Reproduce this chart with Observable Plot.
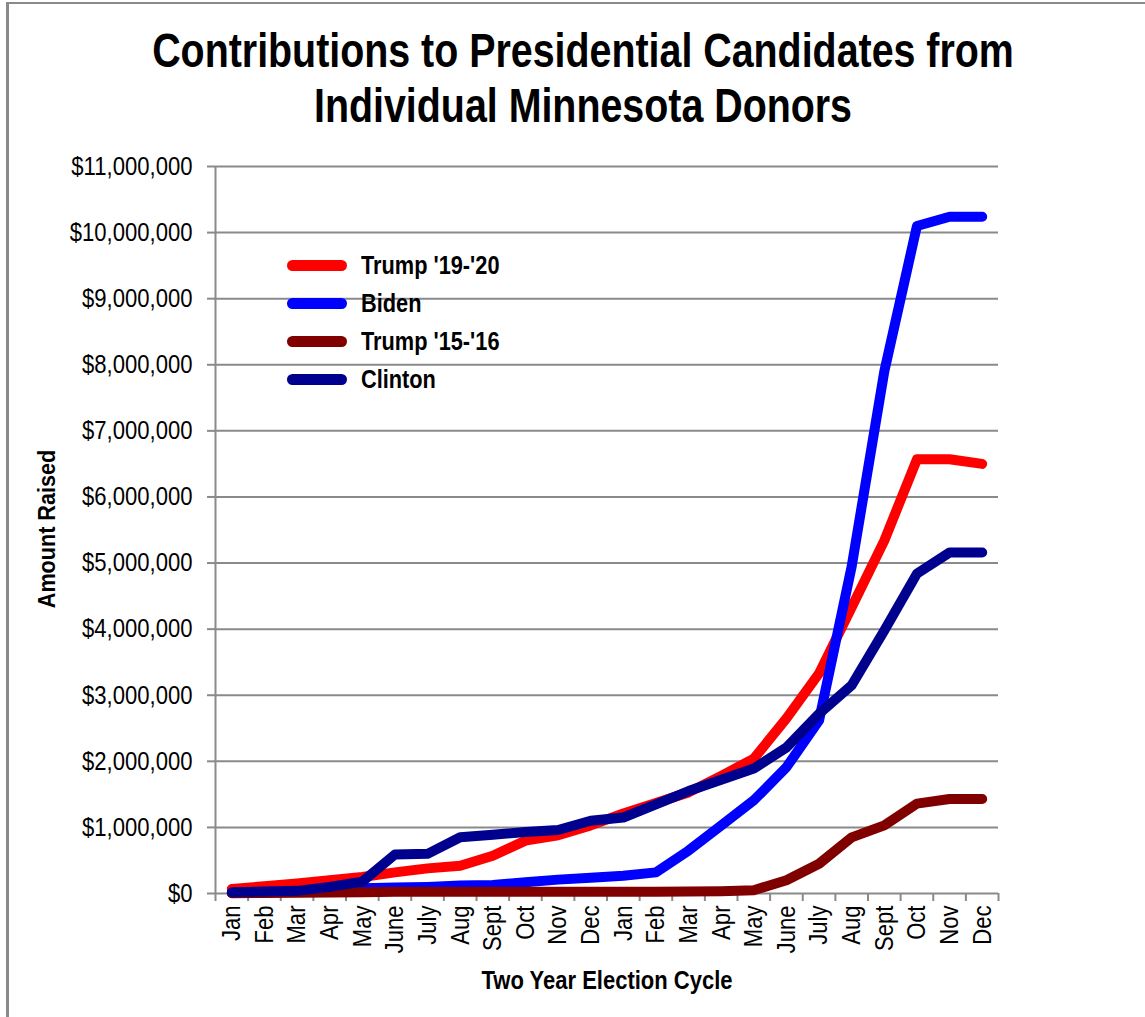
<!DOCTYPE html>
<html>
<head>
<meta charset="utf-8">
<script src="https://cdn.jsdelivr.net/npm/d3@7"></script>
<script src="https://cdn.jsdelivr.net/npm/@observablehq/plot@0.6"></script>
<style>
  html, body { margin: 0; padding: 0; background: #fff; }
  #wrap { position: relative; width: 1145px; height: 1017px; overflow: hidden; font-family: 'Liberation Sans Narrow', 'Arial Narrow', 'Liberation Sans', sans-serif; }
  #frame { position: absolute; left: 6px; top: 2px; width: 1200px; height: 1100px; border-top: 2px solid #8a8a8a; border-left: 3px solid #8a8a8a; box-sizing: border-box; }
  #title { position: absolute; left: 0; top: 23px; width: 1166px; text-align: center; font-weight: bold; font-size: 48px; line-height: 55px; color: #000; transform: scaleX(0.82); transform-origin: 583px 0; }
  #chart { position: absolute; left: 0; top: 0; }
  #ylabel { position: absolute; left: 47px; top: 529px; transform: translate(-50%, -50%) rotate(-90deg) scaleX(0.9); font-weight: bold; font-size: 24px; white-space: nowrap; }
  #xlabel { position: absolute; left: 607px; top: 966px; transform: translateX(-50%) scaleX(0.88); font-weight: bold; font-size: 25px; white-space: nowrap; }
  #legend { position: absolute; left: 287px; top: 250px; }
  .item { position: absolute; left: 0; height: 30px; white-space: nowrap; font-weight: bold; font-size: 25px; }
  .swatch { position: absolute; left: 0; top: 10px; width: 60px; height: 11px; border-radius: 6px; }
  .lab { position: absolute; left: 74px; top: 0; line-height: 30px; transform: scaleX(0.87); transform-origin: 0 0; }
</style>
</head>
<body>
<div id="wrap">
  <div id="frame"></div>
  <div id="chart"></div>
  <div id="title">Contributions to Presidential Candidates from<br>Individual Minnesota Donors</div>
  <div id="ylabel">Amount Raised</div>
  <div id="xlabel">Two Year Election Cycle</div>
  <div id="legend"></div>
</div>
<script>
const months = ["Jan","Feb","Mar","Apr","May","June","July","Aug","Sept","Oct","Nov","Dec",
                "Jan","Feb","Mar","Apr","May","June","July","Aug","Sept","Oct","Nov","Dec"];
const yTicks = [0,1e6,2e6,3e6,4e6,5e6,6e6,7e6,8e6,9e6,10e6,11e6];

const seriesNames = ["Trump '19-'20", "Biden", "Trump '15-'16", "Clinton"];
const seriesColors = ["#ff0000", "#0000ff", "#800000", "#00008f"];

const trump2020 = [70000,110000,150000,200000,250000,320000,380000,420000,570000,800000,880000,1030000,
                   1210000,1370000,1530000,1780000,2040000,2650000,3330000,4330000,5340000,6570000,6570000,6500000];
const biden     = [10000,20000,30000,50000,80000,90000,100000,120000,130000,170000,210000,240000,
                   270000,320000,650000,1030000,1410000,1910000,2620000,4950000,7900000,10100000,10240000,10240000];
const trump2016 = [5000,8000,10000,15000,20000,25000,25000,25000,25000,25000,25000,25000,
                   25000,25000,30000,35000,50000,200000,450000,850000,1030000,1360000,1430000,1430000];
const clinton   = [20000,30000,40000,100000,180000,590000,600000,850000,890000,930000,960000,1100000,
                   1150000,1350000,1550000,1720000,1890000,2210000,2720000,3150000,3980000,4840000,5160000,5160000];

const seriesValues = [trump2020, biden, trump2016, clinton];

const fmt = d3.format(",");
const chart = Plot.plot({
  width: 1145,
  height: 1017,
  marginLeft: 215,
  marginRight: 147,
  marginTop: 166,
  marginBottom: 124,
  style: { fontFamily: "'Liberation Sans Narrow', 'Arial Narrow', 'Liberation Sans', sans-serif", fontSize: "26px", color: "#000", background: "transparent", overflow: "visible" },
  x: { domain: [-0.5, 23.5] },
  y: { domain: [0, 11e6] },
  marks: [
    Plot.gridY(yTicks, { stroke: "#8a8a8a", strokeOpacity: 1, strokeWidth: 2 }),
    Plot.ruleX([-0.5], { y1: 0, y2: 11e6, stroke: "#8a8a8a", strokeWidth: 2 }),
    Plot.axisY(yTicks, { tickSize: 8, tickPadding: 15, stroke: "#8a8a8a", strokeWidth: 2, tickFormat: d => "$" + fmt(d), label: null, fontSize: 26 }),
    Plot.axisX(d3.range(25).map(i => i - 0.5), { tickSize: 8, stroke: "#8a8a8a", strokeWidth: 2, tickFormat: () => "", label: null }),
    Plot.axisX(d3.range(24), { tickSize: 0, tickPadding: 12, rotate: -90, textAnchor: "end", lineAnchor: "middle", tickFormat: i => months[i], label: null, fontSize: 26 }),
    ...seriesValues.map((vals, k) =>
      Plot.line(vals, { x: (d, i) => i, y: d => d, stroke: seriesColors[k], strokeWidth: 10, strokeLinecap: "round", strokeLinejoin: "round" })
    )
  ]
});
document.getElementById("chart").appendChild(chart);

// emulate a narrow typeface: compress every label along its own reading direction
const isNum = s => s != null && s !== "" && /^-?[\d.]+(e-?\d+)?$/.test(s.trim());
chart.querySelectorAll("text").forEach(t => {
  const xa = t.getAttribute("x"), ya = t.getAttribute("y");
  let dx = 0, dy = 0;
  if (isNum(xa)) { dx = +xa; t.removeAttribute("x"); }
  if (isNum(ya)) { dy = +ya; t.removeAttribute("y"); }
  const tr = t.getAttribute("transform") || "";
  t.setAttribute("transform", `${tr} translate(${dx},${dy}) scale(0.85,1)`.trim());
});

const legend = document.getElementById("legend");
const legendTops = [0, 38, 76, 114];
seriesNames.forEach((n, k) => {
  const it = document.createElement("div");
  it.className = "item";
  it.style.top = legendTops[k] + "px";
  it.innerHTML = `<span class="swatch" style="background:${seriesColors[k]}"></span><span class="lab">${n}</span>`;
  legend.appendChild(it);
});
</script>
</body>
</html>
